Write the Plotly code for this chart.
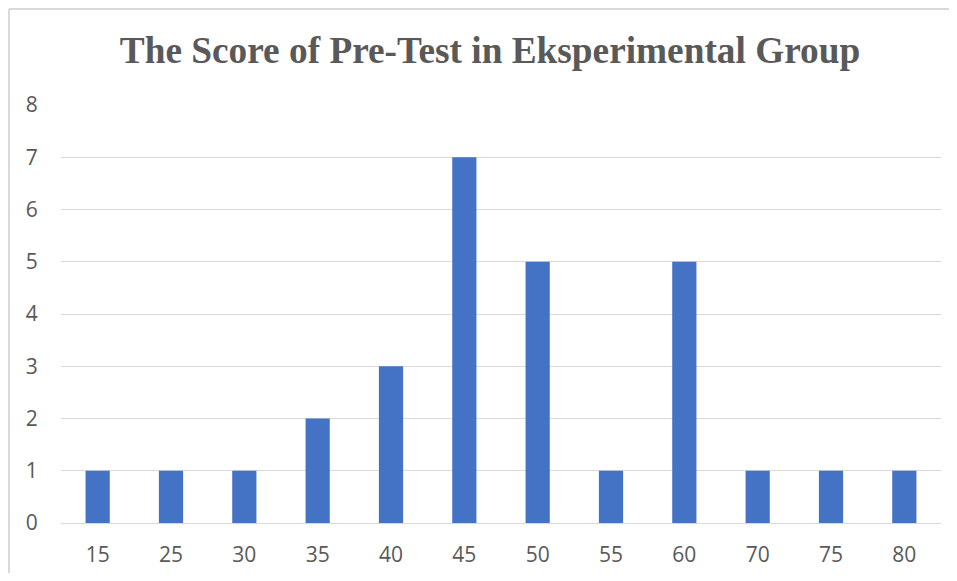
import plotly.graph_objects as go

scores = ["15", "25", "30", "35", "40", "45", "50", "55", "60", "70", "75", "80"]
counts = [1, 1, 1, 2, 3, 7, 5, 1, 5, 1, 1, 1]
y_ticks = [0, 1, 2, 3, 4, 5, 6, 7, 8]

# page is offset by 8px body margin; keep figure + margins inside the viewport
W, H = 941, 565
L, T = 53, 97
pw, ph = 880, 418
R, B = W - L - pw, H - T - ph

fig = go.Figure(go.Bar(x=scores, y=counts, marker=dict(color="#4472C4", line=dict(width=0)), hoverinfo="x+y"))

fig.update_layout(
    width=W, height=H,
    margin=dict(l=L, r=R, t=T, b=B, autoexpand=False),
    paper_bgcolor="white", plot_bgcolor="white",
    bargap=0.67,
    showlegend=False,
    title=dict(text="<b>The Score of Pre-Test in Eksperimental Group</b>",
               x=482 / W, xanchor="center", y=1 - 42 / H, yanchor="middle",
               font=dict(family="Liberation Serif", size=37.3, color="#595959")),
    font=dict(family="Open Sans", size=21, color="#595959"),
)
fig.update_xaxes(type="category", showgrid=False, showline=False, zeroline=False,
                 ticks="outside", ticklen=13, tickcolor="rgba(0,0,0,0)",
                 tickfont=dict(size=21, color="#595959"))
fig.update_yaxes(range=[0, 8], tickvals=y_ticks, showgrid=True, gridcolor="#D9D9D9", gridwidth=1.3,
                 zeroline=True, zerolinecolor="#D9D9D9", zerolinewidth=1.3, showline=False,
                 ticks="outside", ticklen=18, tickcolor="rgba(0,0,0,0)",
                 tickfont=dict(size=21, color="#595959"))

# outer chart border (left and top visible)
x0 = (1 - L) / pw
y1 = 1 + (T - 1) / ph
fig.add_shape(type="line", xref="paper", yref="paper", x0=x0, x1=x0, y0=-0.3, y1=y1,
              line=dict(color="#D9D9D9", width=2))
fig.add_shape(type="line", xref="paper", yref="paper", x0=x0, x1=1.2, y0=y1, y1=y1,
              line=dict(color="#D9D9D9", width=2))

fig.write_html("out.html")
